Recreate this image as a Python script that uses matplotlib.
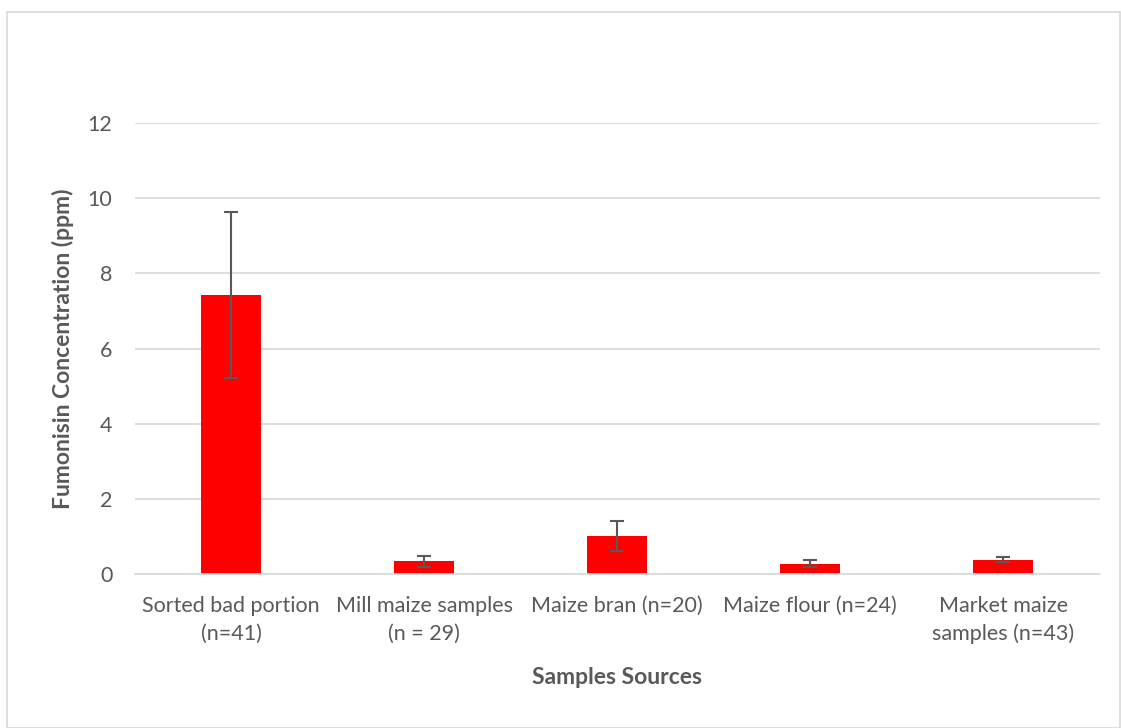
import matplotlib.pyplot as plt
import numpy as np
from matplotlib.patches import Rectangle

categories = ['Sorted bad portion\n(n=41)', 'Mill maize samples\n(n = 29)', 'Maize bran (n=20)',
              'Maize flour (n=24)', 'Market maize\nsamples (n=43)']
means = [7.42, 0.34, 1.01, 0.28, 0.38]
errors = [2.2, 0.15, 0.39, 0.08, 0.07]
yticks = [0, 2, 4, 6, 8, 10, 12]

plt.rcParams['font.family'] = ['Lato', 'DejaVu Sans']
grey = '#595959'

fig = plt.figure(figsize=(11.21, 7.28), dpi=100)
ax = fig.add_axes([0.12, 0.2115, 0.861, 0.6195])

x = np.arange(len(categories))
ax.bar(x, means, width=0.31, color='#ff0000', zorder=2)
ax.errorbar(x, means, yerr=errors, fmt='none', ecolor='#595959', elinewidth=1.5,
            capsize=5, capthick=1.5, zorder=3)

ax.set_xlim(-0.5, len(categories) - 0.5)
ax.set_ylim(0, 12)
ax.set_yticks(yticks)
ax.set_xticks(x)
ax.set_xticklabels(categories, fontsize=15.5, color=grey, linespacing=1.45)
ax.tick_params(axis='y', labelsize=15.5, labelcolor=grey, length=0, pad=16)
ax.tick_params(axis='x', length=0, pad=16)
ax.grid(axis='y', color='#d9d9d9', linewidth=1.2, zorder=0)
for s in ['top', 'right', 'left']:
    ax.spines[s].set_visible(False)
ax.spines['bottom'].set_color('#d9d9d9')
ax.spines['bottom'].set_linewidth(1.2)

ax.set_ylabel('Fumonisin Concentration (ppm)', fontsize=16.5, fontweight='bold', color=grey, labelpad=10)
ax.set_xlabel('Samples Sources', fontsize=16.5, fontweight='bold', color=grey, labelpad=16)

fig.patches.append(Rectangle((0.006, 0.0), 0.993, 0.984, transform=fig.transFigure,
                             fill=False, edgecolor='#d9d9d9', linewidth=1.2))

fig.savefig('out.png', dpi=100)
